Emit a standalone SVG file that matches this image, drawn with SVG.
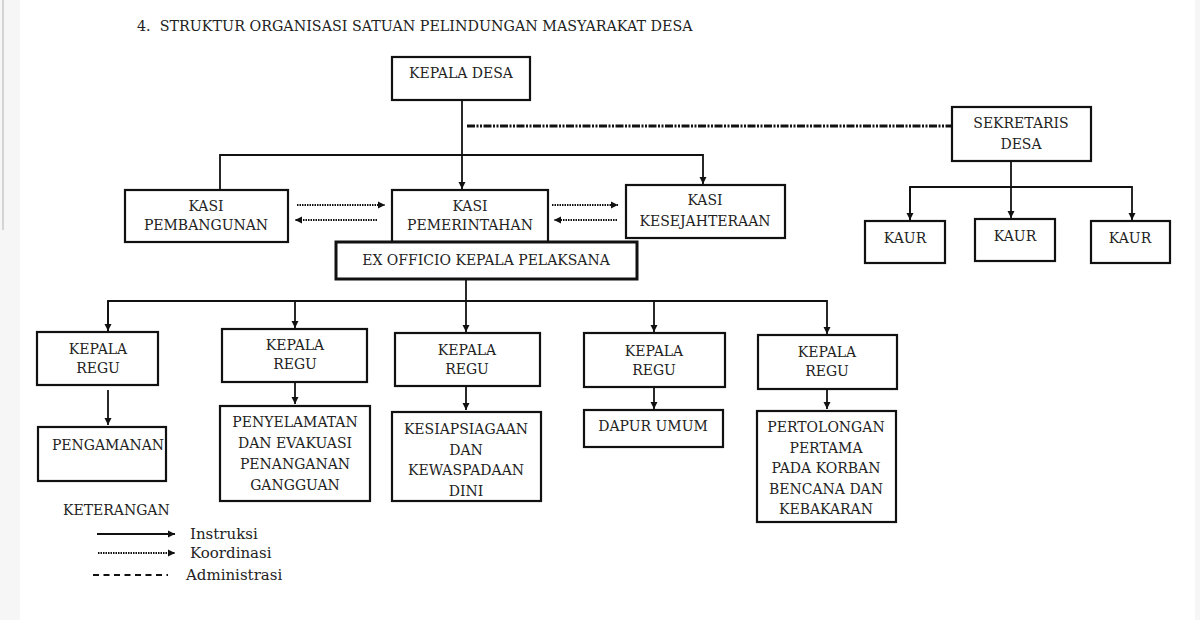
<svg xmlns="http://www.w3.org/2000/svg" width="1200" height="620" viewBox="0 0 1200 620">
<defs>
<style>
text{font-family:"DejaVu Serif","Liberation Serif",serif;font-size:14px;fill:#222;text-anchor:middle}
.box{fill:#fff;stroke:#111;stroke-width:2.2}
.thick{fill:#fff;stroke:#111;stroke-width:3}
.ln{fill:none;stroke:#111;stroke-width:1.8}
.dot{fill:none;stroke:#111;stroke-width:2;stroke-dasharray:1.5 1}
.adm{fill:none;stroke:#111;stroke-width:2.8;stroke-dasharray:8 1.5 2 1.5 2 1.5}
.leg{text-anchor:start}
.lg{text-anchor:start;font-size:15px}
</style>
<marker id="ah" markerWidth="8" markerHeight="8" refX="7" refY="4" orient="auto" markerUnits="userSpaceOnUse">
<path d="M0,0.5 L7,4 L0,7.5 Z" fill="#111"/>
</marker>
</defs>
<rect width="1200" height="620" fill="#f6f6f6"/>
<rect x="20" y="0" width="1175" height="620" fill="#fff"/>
<line x1="3" y1="0" x2="3" y2="230" stroke="#c8c8c8" stroke-width="1.5"/>
<text x="137" y="31" class="leg" style="font-size:14.3px" xml:space="preserve">4.  STRUKTUR ORGANISASI SATUAN PELINDUNGAN MASYARAKAT DESA</text>

<g id="connectors">
<line class="ln" x1="462" y1="100" x2="462" y2="189" marker-end="url(#ah)"/>
<line class="adm" x1="467" y1="126" x2="952" y2="126"/>
<polyline class="ln" points="220,189 220,155 703,155 703,184" marker-end="url(#ah)"/>
<line class="dot" x1="297" y1="205" x2="385" y2="205" marker-end="url(#ah)"/>
<line class="dot" x1="377" y1="220" x2="295" y2="220" marker-end="url(#ah)"/>
<line class="dot" x1="552" y1="205" x2="618" y2="205" marker-end="url(#ah)"/>
<line class="dot" x1="617" y1="220" x2="554" y2="220" marker-end="url(#ah)"/>
<line class="ln" x1="1011" y1="161" x2="1011" y2="218" marker-end="url(#ah)"/>
<polyline class="ln" points="910,220 910,187 1132,187 1132,220" marker-end="url(#ah)"/>
<line class="ln" x1="910" y1="187" x2="910" y2="220" marker-end="url(#ah)"/>
<line class="ln" x1="466" y1="279" x2="466" y2="332" marker-end="url(#ah)"/>
<polyline class="ln" points="108,331 108,301 827,301 827,334" marker-end="url(#ah)"/>
<line class="ln" x1="108" y1="301" x2="108" y2="331" marker-end="url(#ah)"/>
<line class="ln" x1="295" y1="301" x2="295" y2="328" marker-end="url(#ah)"/>
<line class="ln" x1="654" y1="301" x2="654" y2="332" marker-end="url(#ah)"/>
<line class="ln" x1="108" y1="390" x2="108" y2="425" stroke-width="1.4" marker-end="url(#ah)"/>
<line class="ln" x1="295" y1="383" x2="295" y2="404" stroke-width="1.4" marker-end="url(#ah)"/>
<line class="ln" x1="466" y1="387" x2="466" y2="410" stroke-width="1.4" marker-end="url(#ah)"/>
<line class="ln" x1="654" y1="388" x2="654" y2="409" stroke-width="1.4" marker-end="url(#ah)"/>
<line class="ln" x1="827" y1="390" x2="827" y2="409" stroke-width="1.4" marker-end="url(#ah)"/>
</g>

<g id="kepala-desa"><rect class="box" x="392" y="57" width="138" height="43"/><text x="461" y="78">KEPALA DESA</text></g>
<g id="kasi-pembangunan"><rect class="box" x="125" y="190" width="163" height="52"/><text x="206" y="211">KASI</text><text x="206" y="230">PEMBANGUNAN</text></g>
<g id="kasi-pemerintahan"><rect class="box" x="392" y="190" width="156" height="52"/><text x="470" y="211">KASI</text><text x="470" y="230">PEMERINTAHAN</text></g>
<g id="kasi-kesejahteraan"><rect class="box" x="626" y="185" width="159" height="53"/><text x="705" y="205">KASI</text><text x="705" y="226">KESEJAHTERAAN</text></g>
<g id="ex-officio"><rect class="thick" x="336" y="242" width="301" height="37"/><text x="486" y="265">EX OFFICIO KEPALA PELAKSANA</text></g>
<g id="sekretaris-desa"><rect class="box" x="952" y="107" width="139" height="54"/><text x="1021" y="128">SEKRETARIS</text><text x="1021" y="149">DESA</text></g>
<g id="kaur-1"><rect class="box" x="865" y="221" width="80" height="42"/><text x="905" y="243">KAUR</text></g>
<g id="kaur-2"><rect class="box" x="975" y="219" width="80" height="42"/><text x="1015" y="241">KAUR</text></g>
<g id="kaur-3"><rect class="box" x="1091" y="221" width="79" height="42"/><text x="1130" y="243">KAUR</text></g>

<g id="regu-1"><rect class="box" x="37" y="332" width="121" height="53"/><text x="98" y="354">KEPALA</text><text x="98" y="373">REGU</text></g>
<g id="regu-2"><rect class="box" x="222" y="329" width="145" height="53"/><text x="295" y="350">KEPALA</text><text x="295" y="369">REGU</text></g>
<g id="regu-3"><rect class="box" x="395" y="333" width="145" height="53"/><text x="467" y="355">KEPALA</text><text x="467" y="374">REGU</text></g>
<g id="regu-4"><rect class="box" x="584" y="333" width="141" height="54"/><text x="654" y="356">KEPALA</text><text x="654" y="375">REGU</text></g>
<g id="regu-5"><rect class="box" x="758" y="335" width="139" height="54"/><text x="827" y="357">KEPALA</text><text x="827" y="376">REGU</text></g>

<g id="pengamanan"><rect class="box" x="38" y="427" width="128" height="54"/><text x="108" y="450">PENGAMANAN</text></g>
<g id="penyelamatan"><rect class="box" x="220" y="406" width="150" height="95"/><text x="295" y="427">PENYELAMATAN</text><text x="295" y="448">DAN EVAKUASI</text><text x="295" y="469">PENANGANAN</text><text x="295" y="490">GANGGUAN</text></g>
<g id="kesiapsiagaan"><rect class="box" x="392" y="412" width="149" height="89"/><text x="466" y="434">KESIAPSIAGAAN</text><text x="466" y="455">DAN</text><text x="466" y="475">KEWASPADAAN</text><text x="466" y="496">DINI</text></g>
<g id="dapur-umum"><rect class="box" x="584" y="410" width="139" height="37"/><text x="653" y="431">DAPUR UMUM</text></g>
<g id="pertolongan"><rect class="box" x="757" y="411" width="139" height="111"/><text x="826" y="432">PERTOLONGAN</text><text x="826" y="453">PERTAMA</text><text x="826" y="473">PADA KORBAN</text><text x="826" y="494">BENCANA DAN</text><text x="826" y="514">KEBAKARAN</text></g>

<g id="legend">
<text x="63" y="515" class="leg">KETERANGAN</text>
<line class="ln" x1="97" y1="534" x2="175" y2="534" marker-end="url(#ah)"/>
<text x="190" y="539" class="lg">Instruksi</text>
<line class="dot" x1="98" y1="553" x2="175" y2="553" stroke-width="1.5" marker-end="url(#ah)"/>
<text x="190" y="558" class="lg">Koordinasi</text>
<line x1="93" y1="575" x2="168" y2="575" stroke="#111" stroke-width="1.8" stroke-dasharray="6 4.5"/>
<text x="186" y="580" class="lg">Administrasi</text>
</g>
</svg>
